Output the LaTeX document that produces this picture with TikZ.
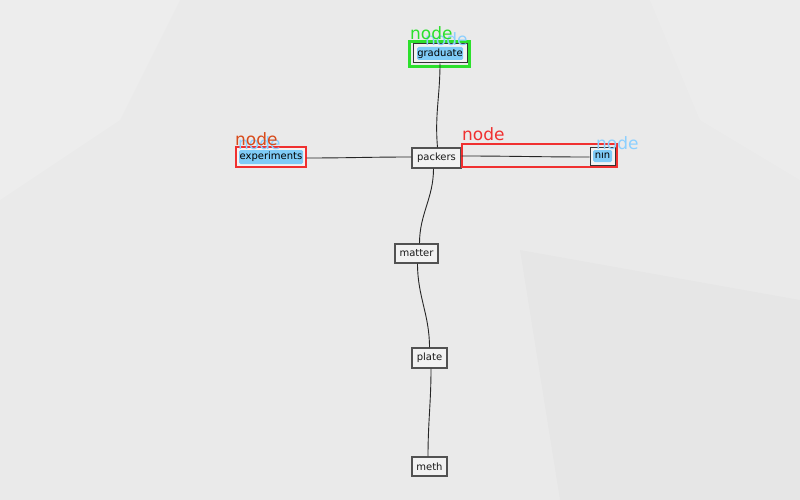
\documentclass[tikz,border=0pt]{standalone}
\usepackage{fontspec}
\setmainfont{DejaVu Sans}
\definecolor{bgcol}{HTML}{EAEAEA}
\definecolor{nodefill}{HTML}{F2F2F2}
\definecolor{hlblue}{HTML}{7FCBF7}
\definecolor{tagblue}{HTML}{8CD0FF}
\definecolor{tagred}{HTML}{F03030}
\definecolor{tagorange}{HTML}{D84A1A}
\definecolor{taggreen}{HTML}{2CE02C}
\begin{document}
\begin{tikzpicture}[x=1pt,y=-1pt,
  box/.style={draw=black!68,line width=1.2pt,fill=nodefill,inner sep=0pt,
    font=\fontsize{10}{10}\selectfont,text=black!90},
  hlnode/.style={draw=black!80,line width=1pt,fill=nodefill,inner sep=0pt},
  hl/.style={fill=hlblue,rounded corners=1.5pt,inner sep=0pt,
    font=\fontsize{10}{10}\selectfont,text=black},
  frame/.style={draw=#1,line width=2.6pt,fill=none,inner sep=0pt},
  tag/.style={text=#1,font=\fontsize{17}{17}\selectfont,inner sep=0pt,anchor=south west},
  link/.style={draw=black!85,line width=0.9pt}]
\useasboundingbox (0,0) rectangle (800,500);
\fill[bgcol] (0,0) rectangle (800,500);
\fill[white,opacity=0.15] (0,0) -- (180,0) -- (120,120) -- (0,200) -- cycle;
\fill[white,opacity=0.12] (650,0) -- (800,0) -- (800,180) -- (700,120) -- cycle;
\fill[black,opacity=0.015] (520,250) -- (800,300) -- (800,500) -- (560,500) -- cycle;

% plain nodes
\node[box,minimum width=49,minimum height=20] (packers) at (436.5,158) {packers};
\node[box,minimum width=43,minimum height=19] (matter) at (416.5,253.5) {matter};
\node[box,minimum width=35,minimum height=20] (plate) at (429.5,358) {plate};
\node[box,minimum width=35,minimum height=19] (meth) at (429.5,466.5) {meth};

% graduate
\node[hlnode,minimum width=54,minimum height=19] (graduate) at (440,53.5) {};
\node[hl,minimum width=46,minimum height=13] (graduatet) at (440,53.5) {graduate};
\node[frame=taggreen,minimum width=60,minimum height=25] (graduatef) at (439.5,54) {};

% experiments
\node[hlnode,minimum width=70,minimum height=19] (experiments) at (271,157) {};
\node[hl,minimum width=64,minimum height=14] (experimentst) at (271,157) {experiments};
\node[frame=tagred,minimum width=70,minimum height=20] (experimentsf) at (271,157) {};

% nin
\node[hlnode,minimum width=25,minimum height=18] (nin) at (602.5,156) {};
\node[hl,minimum width=19,minimum height=12] (nint) at (602.5,156) {nın};
\node[frame=tagred,minimum width=155,minimum height=23] (edgef) at (539.5,155.5) {};

% connectors
\draw[link] ([xshift=1pt]packers.north) to[out=95,in=-90] (graduate.south);
\draw[link] ([yshift=-1pt]experiments.east) to[out=0,in=180] ([yshift=1pt]packers.west);
\draw[link] ([yshift=2pt]packers.east) to[out=0,in=180] ([yshift=-1pt]nin.west);
\draw[link] ([xshift=-3pt]packers.south) to[out=-90,in=90] ([xshift=3pt]matter.north);
\draw[link] ([xshift=1pt]matter.south) to[out=-90,in=90] (plate.north);
\draw[link] ([xshift=1.5pt]plate.south) to[out=-90,in=90] ([xshift=-1.5pt]meth.north);

% tags
\node[tag=tagblue] (tg2) at (425,46) {node};
\node[tag=taggreen] (tg1) at (410,40) {node};
\node[tag=tagblue] (te2) at (238,150) {node};
\node[tag=tagorange] (te1) at (235,146) {node};
\node[tag=tagred] (tr1) at (462,141) {node};
\node[tag=tagblue] (tn1) at (596,150) {node};
\end{tikzpicture}
\end{document}
